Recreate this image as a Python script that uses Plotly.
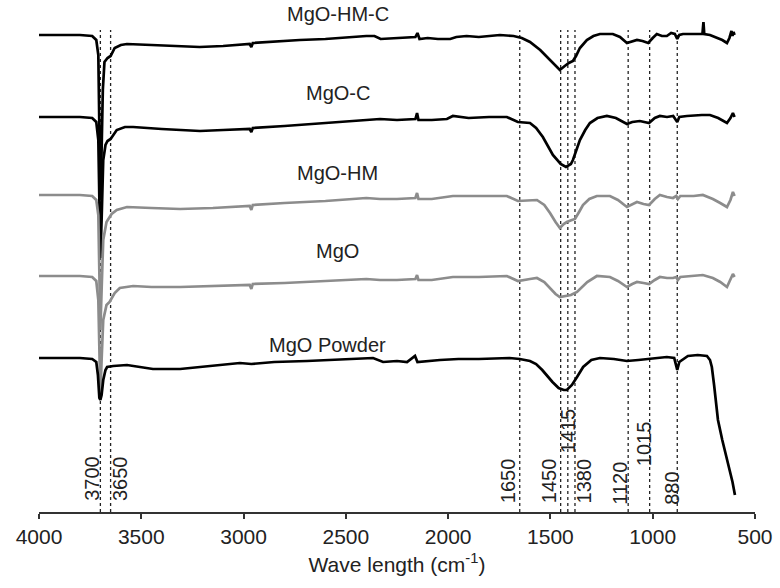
import plotly.graph_objects as go

# ---- data (wavenumber in cm-1, transmittance offset in a.u.) ----
hmc_w = [4000, 3800, 3740, 3720, 3710, 3704, 3700, 3694, 3688, 3680, 3665, 3650, 3630, 3600, 3570, 3450, 3300, 3215, 3100, 2970, 2962, 2955, 2725, 2600, 2400, 2360, 2330, 2250, 2160, 2150, 2140, 2100, 2050, 1990, 1960, 1910, 1850, 1747, 1680, 1640, 1600, 1550, 1500, 1470, 1454, 1430, 1410, 1390, 1375, 1356, 1322, 1290, 1258, 1195, 1160, 1126, 1100, 1077, 1050, 1022, 1000, 980, 955, 931, 910, 892, 880, 870, 852, 800, 757, 752, 748, 720, 686, 660, 637, 625, 615, 610, 605, 600]
hmc_v = [477, 477, 476, 472, 457, 362, 312, 362, 422, 450, 454, 456, 464, 467, 468, 467, 466, 465, 466, 468, 465, 469, 472, 473, 476, 476, 473, 474, 475, 479, 473, 474, 473, 473, 475, 476, 475, 477, 476, 474, 470, 462, 452, 445, 442, 446, 449, 451, 456, 464, 472, 476, 478, 478, 475, 469, 471, 472, 471, 469, 474, 478, 476, 476, 479, 478, 473, 477, 478, 478, 478, 490, 478, 477, 474, 472, 469, 474, 481, 476, 480, 477]

c_w = [4000, 3800, 3740, 3720, 3710, 3704, 3700, 3694, 3686, 3675, 3665, 3650, 3620, 3580, 3540, 3400, 3213, 3100, 2970, 2962, 2955, 2800, 2600, 2400, 2333, 2250, 2160, 2152, 2145, 2080, 2006, 1977, 1900, 1800, 1713, 1659, 1600, 1570, 1537, 1488, 1450, 1424, 1400, 1390, 1356, 1330, 1307, 1270, 1224, 1180, 1126, 1100, 1063, 1018, 990, 965, 930, 900, 880, 870, 833, 760, 720, 680, 650, 637, 620, 608, 600]
c_v = [395, 395, 394, 390, 372, 292, 254, 292, 352, 367, 371, 373, 382, 385, 385, 383, 381, 382, 383, 380, 384, 386, 389, 392, 393, 392, 393, 399, 392, 392, 393, 396, 394, 395, 395, 390, 389, 384, 375, 357, 348, 345, 348, 352, 372, 382, 389, 394, 396, 394, 388, 390, 391, 389, 394, 396, 395, 396, 390, 395, 396, 397, 397, 394, 391, 389, 394, 399, 395]

hm_w = [4000, 3800, 3740, 3720, 3710, 3704, 3700, 3694, 3686, 3670, 3645, 3620, 3570, 3450, 3310, 3150, 2970, 2962, 2955, 2800, 2600, 2400, 2333, 2250, 2160, 2152, 2145, 2080, 2000, 1977, 1850, 1713, 1659, 1600, 1566, 1530, 1502, 1475, 1454, 1435, 1420, 1395, 1380, 1360, 1341, 1310, 1273, 1209, 1170, 1126, 1100, 1077, 1045, 1018, 990, 965, 930, 901, 885, 877, 865, 800, 755, 706, 670, 637, 620, 608, 600]
hm_v = [317, 317, 316, 312, 297, 222, 182, 222, 272, 290, 298, 302, 305, 304, 303, 304, 306, 302, 307, 309, 311, 314, 313, 313, 314, 319, 313, 313, 315, 316, 316, 316, 311, 312, 312, 307, 299, 290, 284, 288, 290, 292, 293, 300, 307, 313, 316, 316, 312, 305, 308, 310, 308, 307, 313, 317, 315, 314, 316, 313, 316, 316, 317, 313, 309, 305, 312, 320, 316]

m_w = [4000, 3800, 3740, 3720, 3710, 3704, 3700, 3694, 3686, 3670, 3655, 3630, 3605, 3540, 3450, 3310, 3150, 2970, 2962, 2955, 2800, 2600, 2400, 2333, 2250, 2160, 2152, 2145, 2080, 1977, 1850, 1713, 1659, 1600, 1566, 1530, 1502, 1475, 1454, 1430, 1400, 1370, 1345, 1320, 1273, 1209, 1170, 1126, 1100, 1077, 1045, 1018, 990, 965, 930, 901, 885, 877, 865, 800, 755, 706, 670, 637, 620, 608, 600]
m_v = [236, 236, 235, 231, 212, 142, 117, 152, 192, 207, 210, 219, 224, 226, 225, 225, 226, 227, 223, 228, 229, 231, 233, 232, 232, 233, 237, 232, 232, 235, 235, 236, 231, 233, 234, 230, 224, 218, 215, 216, 217, 220, 225, 230, 236, 235, 231, 225, 228, 230, 229, 228, 232, 235, 234, 234, 235, 232, 235, 236, 237, 234, 230, 225, 232, 238, 235]

p_w = [4000, 3800, 3740, 3720, 3712, 3705, 3700, 3694, 3686, 3675, 3667, 3637, 3570, 3443, 3310, 3150, 3018, 2962, 2850, 2690, 2500, 2367, 2318, 2250, 2201, 2162, 2150, 2100, 2040, 1950, 1850, 1700, 1650, 1600, 1570, 1540, 1490, 1460, 1435, 1420, 1395, 1370, 1340, 1300, 1258, 1190, 1126, 1070, 1014, 960, 931, 895, 880, 870, 828, 780, 735, 720, 711, 700, 681, 660, 645, 637, 622, 610, 598]
p_v = [154, 154, 153, 150, 137, 114, 112, 117, 132, 142, 145, 146, 147, 143, 143, 146, 149, 148, 150, 151, 153, 154, 150, 151, 150, 156, 150, 151, 152, 153, 153, 154, 153, 151, 148, 142, 130, 124, 122, 122, 127, 135, 145, 152, 154, 153, 151, 152, 153, 154, 155, 154, 142, 150, 156, 157, 156, 152, 145, 127, 92, 72, 60, 54, 42, 30, 17]

peak_marks = [3700, 3650, 1650, 1450, 1415, 1380, 1120, 1015, 880]
peak_labels = ["3700", "3650", "1650", "1450", "1415", "1380", "1120", "1015", "880"]

series_names = ["MgO-HM-C", "MgO-C", "MgO-HM", "MgO", "MgO Powder"]

BLACK = "#000000"
GRAY = "#8c8c8c"
FONT = "Liberation Sans, Arial, sans-serif"

fig = go.Figure()

# dotted reference lines
for w in peak_marks:
    fig.add_shape(type="line", x0=w, x1=w, y0=0, y1=482, xref="x", yref="y",
                  line=dict(color="#222222", width=1.3, dash="dot"), layer="below")

series = [
    (hmc_w, hmc_v, BLACK),
    (c_w, c_v, BLACK),
    (hm_w, hm_v, GRAY),
    (m_w, m_v, GRAY),
    (p_w, p_v, BLACK),
]
for (xw, yv, col), name in zip(series, series_names):
    fig.add_trace(go.Scatter(x=xw, y=yv, mode="lines", name=name,
                             line=dict(color=col, width=2.7), showlegend=False,
                             hoverinfo="skip"))

# series labels
label_pos = [(2540, 498), (2540, 419), (2540, 339), (2540, 261), (2590, 167)]
for name, (lx, ly) in zip(series_names, label_pos):
    fig.add_annotation(x=lx, y=ly, text=name, showarrow=False,
                       font=dict(family=FONT, size=20, color="#222222"),
                       xanchor="center", yanchor="middle")

# peak labels
label_shift = [-9, 9, -12, -12, 0, 9, -9, -6, -6]
label_bottom = [9, 9, 7, 7, 57, 7, 5, 44, 5]
for w, t, sh, yb in zip(peak_marks, peak_labels, label_shift, label_bottom):
    fig.add_annotation(x=w, y=yb, text=t, textangle=-90, showarrow=False,
                       xshift=sh, xanchor="center", yanchor="bottom",
                       font=dict(family=FONT, size=20, color="#222222"))

fig.update_layout(
    width=780, height=588,
    margin=dict(l=39, r=25, t=0, b=76),
    paper_bgcolor="white", plot_bgcolor="white",
    font=dict(family=FONT, size=20, color="#222222"),
    xaxis=dict(range=[4000, 500], tickvals=[4000, 3500, 3000, 2500, 2000, 1500, 1000, 500],
               ticktext=["4000", "3500", "3000", "2500", "2000", "1500", "1000", "500"],
               showline=True, linecolor="#333333", linewidth=1.5,
               ticks="outside", ticklen=5, tickwidth=1.5, tickcolor="#333333",
               showgrid=False, zeroline=False,
               tickfont=dict(family=FONT, size=21, color="#222222"),
               title=dict(text="Wave length (cm<sup>-1</sup>)",
                          font=dict(family=FONT, size=21, color="#222222"), standoff=10)),
    yaxis=dict(range=[0, 512], visible=False, showgrid=False, zeroline=False),
)

fig.write_html("out.html")
